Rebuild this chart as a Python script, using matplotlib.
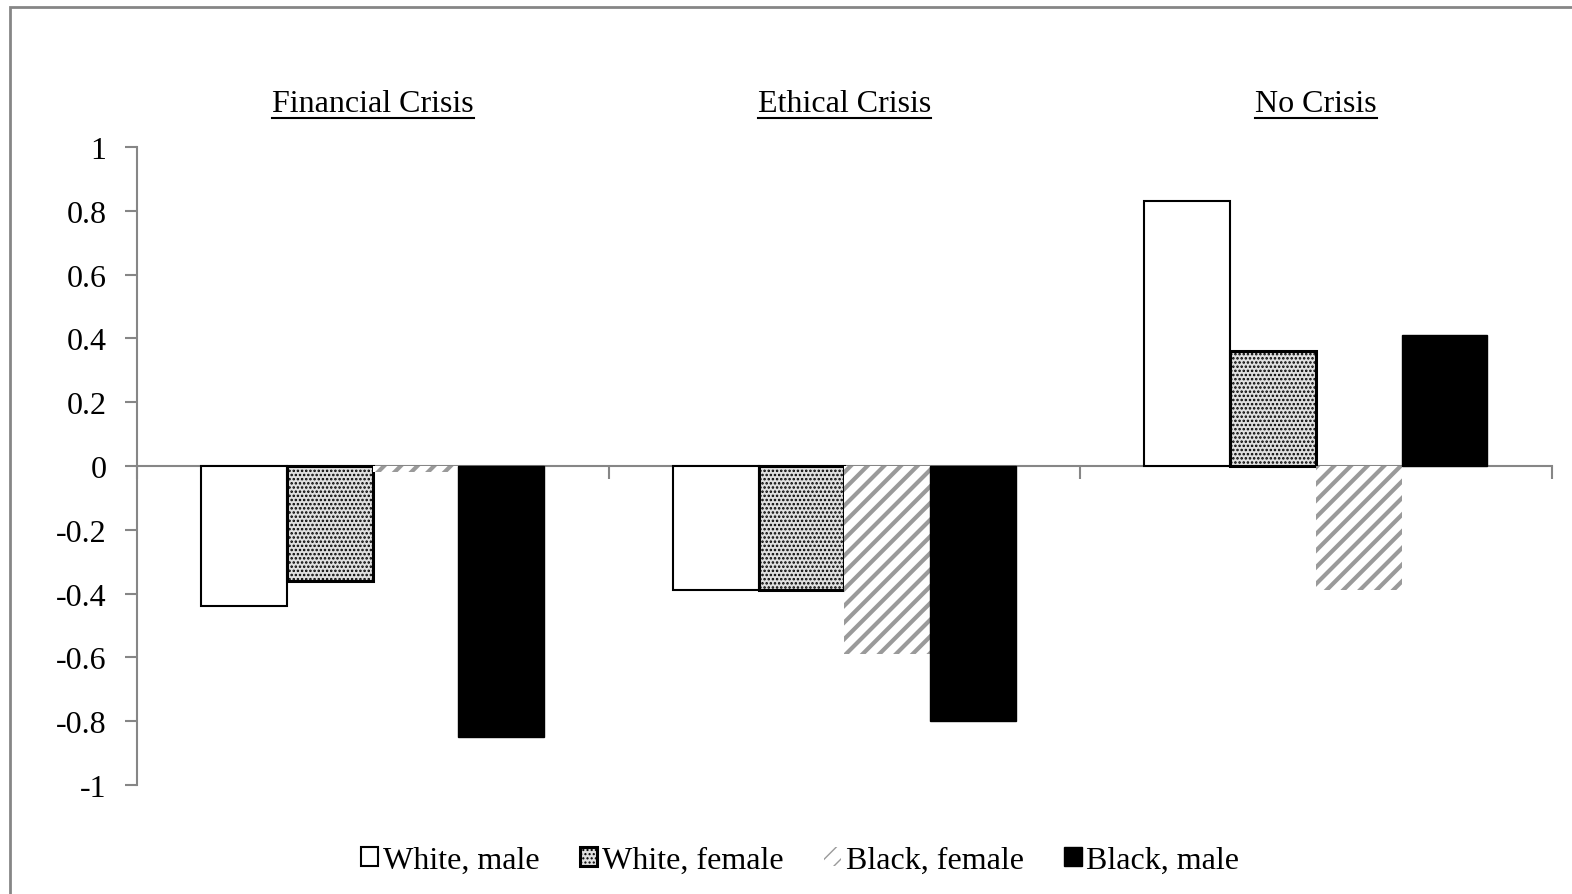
import matplotlib
matplotlib.use('Agg')
import matplotlib.pyplot as plt
import matplotlib.transforms as mtransforms
from matplotlib.patches import Rectangle
from matplotlib.lines import Line2D
import numpy as np

plt.rcParams['font.family'] = ['Liberation Serif', 'DejaVu Serif']
plt.rcParams['font.size'] = 23

conditions = ['Financial Crisis', 'Ethical Crisis', 'No Crisis']
groups = ['White, male', 'White, female', 'Black, female', 'Black, male']
white_male = [-0.44, -0.39, 0.83]
white_female = [-0.36, -0.39, 0.36]
black_female = [-0.02, -0.59, -0.39]
black_male = [-0.85, -0.80, 0.41]
yticks = [1, 0.8, 0.6, 0.4, 0.2, 0, -0.2, -0.4, -0.6, -0.8, -1]

fig = plt.figure(figsize=(15.72, 8.95), dpi=100)
ax = fig.add_axes([0.0871, 0.1218, 0.9, 0.7128])

x = np.arange(len(conditions)) + 0.5
w = 1 / 5.5
offsets = [-1.5 * w, -0.5 * w, 0.5 * w, 1.5 * w]

gray = '#868686'
with plt.rc_context({'hatch.linewidth': 1.2, 'hatch.color': 'black'}):
    b1 = ax.bar(x + offsets[0], white_male, w, facecolor='white', edgecolor='black', linewidth=1.5, label=groups[0])
    b2 = ax.bar(x + offsets[1], white_female, w, facecolor='#e0e0e0', edgecolor='black', linewidth=2.2,
                hatch='....', label=groups[1])
with plt.rc_context({'hatch.linewidth': 3.0, 'hatch.color': '#9a9a9a'}):
    b3 = ax.bar(x + offsets[2], black_female, w, facecolor='white', edgecolor='#9a9a9a', linewidth=0,
                hatch='//', label=groups[2])
b4 = ax.bar(x + offsets[3], black_male, w, facecolor='black', edgecolor='black', linewidth=1, label=groups[3])

ax.set_xlim(0, 3)
ax.set_ylim(-1, 1)
ax.set_yticks(yticks)
ax.set_yticklabels([f'{v:g}' for v in yticks])
for s in ['top', 'right']:
    ax.spines[s].set_visible(False)
ax.spines['left'].set_color(gray)
ax.spines['left'].set_linewidth(1.5)
ax.spines['bottom'].set_position(('data', 0))
ax.spines['bottom'].set_color(gray)
ax.spines['bottom'].set_linewidth(1.5)
ax.spines['bottom'].set_zorder(0.5)
ax.tick_params(axis='y', direction='out', length=9, width=1.5, color=gray, pad=13)
ax.set_xticks([0, 1, 2, 3])
ax.set_xticklabels([])
ax.tick_params(axis='x', direction='out', length=9, width=1.5, color=gray)

# category headings above the plot, underlined
trans = mtransforms.blended_transform_factory(ax.transData, fig.transFigure)
titles = []
for xi, name in zip(x, conditions):
    titles.append(ax.text(xi, 1 - 105 / 895, name, transform=trans, ha='center', va='center'))

fig.legend(handles=[b1, b2, b3, b4], loc='center', bbox_to_anchor=(0.509, 1 - 861 / 895), ncol=4,
           frameon=False, handlelength=0.55, handleheight=0.55, handletextpad=0.15, columnspacing=1.25)

fig.canvas.draw()
r = fig.canvas.get_renderer()
for t in titles:
    bb = t.get_window_extent(r)
    yline = bb.y0 + 1
    fig.add_artist(Line2D([bb.x0 / 1572, bb.x1 / 1572], [yline / 895, yline / 895],
                          transform=fig.transFigure, color='black', linewidth=1.5))

fig.add_artist(Rectangle((10 / 1572, -0.1), 1.2, 1 - 8 / 895 + 0.1, transform=fig.transFigure,
                         fill=False, edgecolor=gray, linewidth=2))

fig.savefig('out.png', dpi=100)
